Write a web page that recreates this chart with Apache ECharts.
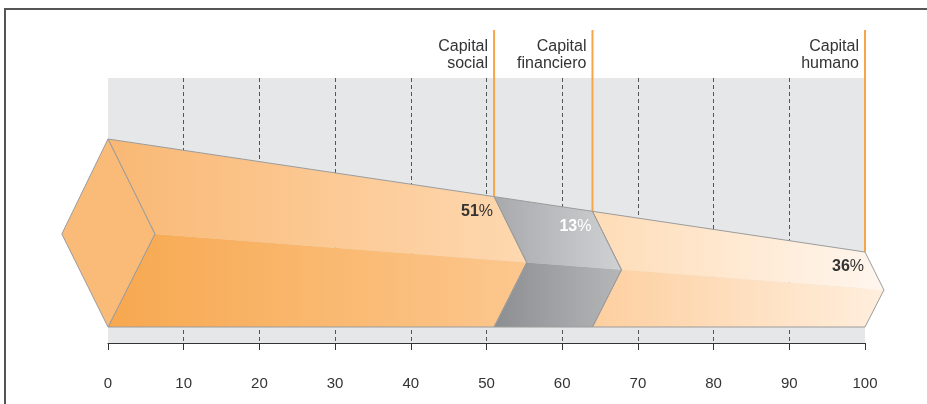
<!DOCTYPE html>
<html>
<head>
<meta charset="utf-8">
<script src="https://cdn.jsdelivr.net/npm/echarts@6/dist/echarts.min.js"></script>
<style>
html,body{margin:0;padding:0;background:#fff;}
#chart{width:927px;height:404px;}
</style>
</head>
<body>
<div id="chart"></div>
<script>
// ---- data ----
const categories = ['Capital social', 'Capital financiero', 'Capital humano'];
const headerLabels = ['Capital\nsocial', 'Capital\nfinanciero', 'Capital\nhumano'];
const shares = [51, 13, 36];
const axisMin = 0;
const axisMax = 100;
const tickStep = 10;

// ---- styles ----
const faceColors = [
  { top: ['#f9b874', '#fed8b0'], bottom: ['#f7a84f', '#fcc78e'] },
  { top: ['#a8a9ac', '#d0d1d3'], bottom: ['#8c8e91', '#b5b6b8'] },
  { top: ['#fedcb6', '#fff6ee'], bottom: ['#fdcf9f', '#ffeedd'] }
];
const pctColors = ['#333333', '#ffffff', '#333333'];
const capColor = '#fabb79';
const edgeColor = '#9c9c9c';
const orange = '#f7a54a';
const FONT = '"Liberation Sans", Arial, Helvetica, sans-serif';

// prism geometry (y in hidden-axis units, 0 = band bottom)
const G = { top0: 204, topSlope: 1.13, ridge0: 109, ridgeSlope: 0.56, bot: 16, depth0: 6.2, depthSlope: 0.037, headerTop: 313, headerMid: 287.5 };

const segData = [];
let acc = 0;
shares.forEach((v, i) => { segData.push([acc, acc + v, i, v]); acc += v; });

function renderItem(params, api) {
  const s = api.value(0), e = api.value(1), i = api.value(2), share = api.value(3);
  const X = v => api.coord([v, 0])[0];
  const Y = yv => api.coord([0, yv])[1];
  const top = v => [X(v), Y(G.top0 - G.topSlope * v)];
  const ridge = v => [X(v + G.depth0 - G.depthSlope * v), Y(G.ridge0 - G.ridgeSlope * v)];
  const bot = v => [X(v), Y(G.bot)];
  const fc = faceColors[i];
  const grad = c => new echarts.graphic.LinearGradient(0, 0, 1, 0, [{ offset: 0, color: c[0] }, { offset: 1, color: c[1] }]);
  const children = [];
  // orange marker line + header
  children.push({ type: 'line', shape: { x1: X(e), y1: Y(G.headerTop), x2: X(e), y2: top(e)[1] }, style: { stroke: orange, lineWidth: 2 }, z2: 1 });
  children.push({ type: 'text', x: X(e) - 6, y: Y(G.headerMid), style: { text: headerLabels[i], align: 'right', verticalAlign: 'middle', fill: '#333', font: '16px ' + FONT, lineHeight: 17 }, z2: 1 });
  // faces
  children.push({ type: 'polygon', shape: { points: [top(s), top(e), ridge(e), ridge(s)] }, style: { fill: grad(fc.top) }, z2: 2 });
  children.push({ type: 'polygon', shape: { points: [ridge(s), ridge(e), bot(e), bot(s)] }, style: { fill: grad(fc.bottom) }, z2: 2 });
  children.push({ type: 'polygon', shape: { points: [top(s), top(e), ridge(e), bot(e), bot(s), ridge(s)] }, style: { fill: 'none', stroke: edgeColor, lineWidth: 1 }, z2: 3 });
  if (i === 0) {
    const lp = [X(-G.depth0 + 0.1), Y(G.ridge0)];
    children.push({ type: 'polygon', shape: { points: [lp, top(s), ridge(s), bot(s)] }, style: { fill: capColor, stroke: edgeColor, lineWidth: 1 }, z2: 4 });
  }
  const t = top(e);
  children.push({
    type: 'text', x: t[0] - 1, y: t[1] + 15,
    style: {
      text: '{b|' + share + '}{n|%}', align: 'right', verticalAlign: 'middle',
      rich: {
        b: { fontSize: 16, fontWeight: 'bold', fontFamily: FONT, fill: pctColors[i] },
        n: { fontSize: 16, fontFamily: FONT, fill: pctColors[i] }
      }
    }, z2: 5
  });
  return { type: 'group', children };
}

const chart = echarts.init(document.getElementById('chart'), null, { renderer: 'canvas' });
chart.setOption({
  animation: false,
  backgroundColor: '#ffffff',
  grid: { left: 108, right: 62, top: 78, bottom: 61, show: true, backgroundColor: '#e6e7e8', borderWidth: 0 },
  xAxis: {
    type: 'value', min: axisMin, max: axisMax, interval: tickStep, offset: 15,
    axisLine: { show: true, lineStyle: { color: '#333', width: 1 } },
    axisTick: { show: true, length: 7, lineStyle: { color: '#333' } },
    axisLabel: { color: '#333', fontSize: 15, fontFamily: FONT, margin: 18 },
    splitLine: { show: true, showMinLine: false, showMaxLine: false, lineStyle: { color: '#555', type: [4, 3], width: 1 } }
  },
  yAxis: { type: 'value', min: 0, max: 265, show: false, splitLine: { show: false } },
  graphic: [{
    type: 'polyline', shape: { points: [[5, 404], [5, 9], [927, 9]] },
    style: { stroke: '#555', lineWidth: 2, fill: 'none' }
  }],
  series: [{
    type: 'custom', name: categories.join(' / '), clip: false,
    renderItem, data: segData
  }]
});
</script>
</body>
</html>
